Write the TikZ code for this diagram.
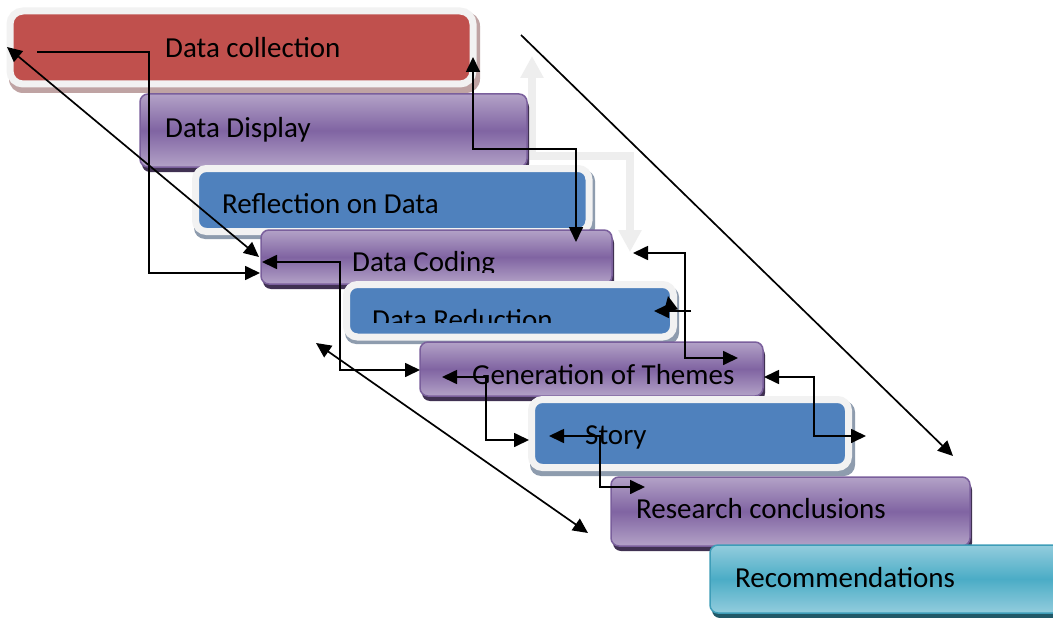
\documentclass[tikz,border=0pt]{standalone}
\usepackage{fontspec}
\setmainfont{Carlito}
\usetikzlibrary{arrows.meta}

\definecolor{framegray}{HTML}{F2F2F2}
\definecolor{redfill}{HTML}{C0504D}
\definecolor{redshade}{HTML}{BFA3A3}
\definecolor{bluefill}{HTML}{4F81BD}
\definecolor{blueshade}{HTML}{8E9CAE}
\definecolor{purplelight}{HTML}{B3A2C7}
\definecolor{purplemid}{HTML}{8064A2}
\definecolor{purpleedge}{HTML}{7A5F9C}
\definecolor{purpleshade}{HTML}{403152}
\definecolor{teallight}{HTML}{93CDDD}
\definecolor{tealmid}{HTML}{4BACC6}
\definecolor{tealedge}{HTML}{3E9DB8}
\definecolor{tealshade}{HTML}{215968}
\definecolor{guidegray}{HTML}{EEEEEE}

\begin{document}
\begin{tikzpicture}[x=1pt,y=-1pt,
  stepbox/.style={anchor=north west, rectangle, inner sep=0pt, outer sep=0pt},
  purplestep/.style={stepbox, draw=purpleedge, line width=1.5pt, rounded corners=8pt,
    top color=purplelight, bottom color=purplelight, middle color=purplemid},
  tealstep/.style={stepbox, draw=tealedge, line width=1.5pt, rounded corners=8pt,
    top color=teallight, bottom color=teallight, middle color=tealmid},
  framedstep/.style={stepbox, draw=framegray, line width=7pt, rounded corners=11pt},
  steptext/.style={anchor=base west, inner sep=0pt, font=\fontsize{29}{34}\selectfont},
  tip/.tip={Triangle[length=15pt,width=14pt]},
  link/.style={line width=1.7pt, -tip},
  twoway/.style={line width=1.7pt, tip-tip},
  guide/.style={draw=guidegray, line width=8pt,
    {Triangle[length=22pt,width=22pt]}-{Triangle[length=22pt,width=22pt]}}
]
\clip (0,0) rectangle (1053,618);
\fill[white] (0,0) rectangle (1053,618);

% pale U-turn arrow behind the steps
\coordinate (gup) at (532,56);
\coordinate (gbend1) at (532,156);
\coordinate (gbend2) at (630,156);
\coordinate (gdown) at (630,252);
\draw[guide, line join=miter] (gup) -- (gbend1) -- (gbend2) -- (gdown);

% ---- step boxes, top to bottom ----
\fill[redshade, rounded corners=14pt] (9,12) rectangle (480,93);
\node[framedstep, fill=redfill, rounded corners=13pt, minimum width=463pt, minimum height=73pt] (collect) at (10,11) {};
\node[steptext] (tcollect) at (165,58) {Data collection};

\fill[purpleshade, rounded corners=8pt] (142,99) rectangle (529,172);
\node[purplestep, minimum width=387pt, minimum height=73pt] (display) at (140,94) {};
\node[steptext] (tdisplay) at (165,137) {Data Display};

\fill[blueshade, rounded corners=11pt] (194,170) rectangle (595,239);
\node[framedstep, fill=bluefill, minimum width=393.5pt, minimum height=63pt] (reflect) at (195.5,168.5) {};
\node[steptext] (treflect) at (222,213) {Reflection on Data};

\fill[purpleshade, rounded corners=8pt] (263,235) rectangle (614,289);
\node[purplestep, minimum width=351pt, minimum height=54pt] (coding) at (261,230) {};
\begin{scope}
  \clip (261,230) rectangle (612,272);
  \node[steptext] (tcoding) at (352,271) {Data Coding};
\end{scope}

\fill[blueshade, rounded corners=11pt] (345,286) rectangle (679,344);
\node[framedstep, fill=bluefill, minimum width=327pt, minimum height=52.5pt] (reduce) at (346.5,284.5) {};
\begin{scope}
  \clip (349,288) rectangle (670,322);
  \node[steptext] (treduce) at (372,329) {Data Reduction};
\end{scope}

\fill[purpleshade, rounded corners=8pt] (422,347) rectangle (765,401);
\node[purplestep, minimum width=343pt, minimum height=54pt] (themes) at (420,342) {};
\node[steptext] (tthemes) at (472,384) {Generation of Themes};

\fill[blueshade, rounded corners=11pt] (530,401) rectangle (855,476);
\node[framedstep, fill=bluefill, minimum width=317pt, minimum height=68pt] (story) at (531.5,399.5) {};
\node[steptext] (tstory) at (585,444) {Story};

\fill[purpleshade, rounded corners=8pt] (613,482) rectangle (972,551);
\node[purplestep, minimum width=359pt, minimum height=69pt] (research) at (611,477) {};
\node[steptext] (tresearch) at (636,518) {Research conclusions};

\fill[tealshade, rounded corners=8pt] (712,550) rectangle (1072,618);
\node[tealstep, minimum width=360pt, minimum height=68pt] (recommend) at (710,545) {};
\node[steptext] (trecommend) at (735,587) {Recommendations};

% ---- connectors ----
\coordinate (a0) at (37,52);
\coordinate (a1) at (149,52);
\coordinate (a2) at (149,273);
\coordinate (a3) at (260,273);
\draw[link] (a0) -- (a1) -- (a2) -- (a3);

\coordinate (b0) at (7,47);
\coordinate (b1) at (259,257);
\draw[twoway] (b0) -- (b1);

\coordinate (c0) at (262,262);
\coordinate (c1) at (340,262);
\coordinate (c2) at (340,370);
\coordinate (c3) at (420,370);
\draw[twoway] (c0) -- (c1) -- (c2) -- (c3);

\coordinate (d0) at (316,343);
\coordinate (d1) at (588,533);
\draw[twoway] (d0) -- (d1);

\coordinate (e0) at (442,377);
\coordinate (e1) at (486,377);
\coordinate (e2) at (486,440);
\coordinate (e3) at (529,440);
\draw[twoway] (e0) -- (e1) -- (e2) -- (e3);

\coordinate (s0) at (549,436);
\coordinate (s1) at (600,436);
\coordinate (s2) at (600,487);
\coordinate (s3) at (645,487);
\draw[twoway] (s0) -- (s1) -- (s2) -- (s3);

\coordinate (f0) at (473,57);
\coordinate (f1) at (473,149);
\coordinate (f2) at (576,149);
\coordinate (f3) at (576,242);
\draw[twoway] (f0) -- (f1) -- (f2) -- (f3);

\coordinate (h0) at (633,253);
\coordinate (h1) at (685,253);
\coordinate (h2) at (685,358);
\coordinate (h3) at (738,358);
\draw[twoway] (h0) -- (h1) -- (h2) -- (h3);

\coordinate (i0) at (691,311);
\coordinate (i1) at (654,311);
\coordinate (i2) at (671,311);
\coordinate (i3) at (668,296);
\draw[link] (i0) -- (i1);
\draw[link] (i2) -- (i3);

\coordinate (j0) at (764,377);
\coordinate (j1) at (814,377);
\coordinate (j2) at (814,436);
\coordinate (j3) at (866,436);
\draw[twoway] (j0) -- (j1) -- (j2) -- (j3);

\coordinate (k0) at (521,35);
\coordinate (k1) at (953,456);
\draw[link] (k0) -- (k1);
\end{tikzpicture}
\end{document}
